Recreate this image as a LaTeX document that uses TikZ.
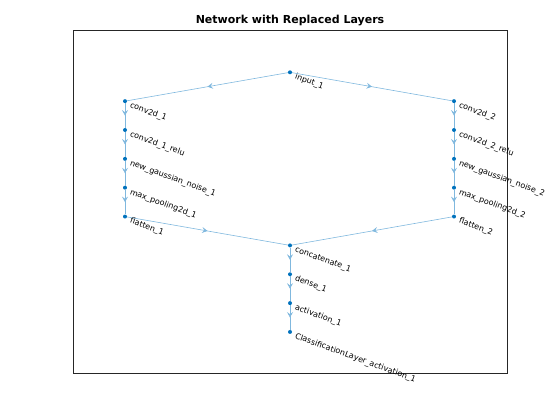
\documentclass[tikz,border=0pt]{standalone}
\usepackage{fontspec}
\setmainfont{DejaVu Sans}
\usetikzlibrary{arrows.meta,decorations.markings}
\definecolor{nodeblue}{rgb}{0,0.447,0.741}
\definecolor{edgeblue}{rgb}{0.5,0.72,0.87}

\begin{document}
\begin{tikzpicture}[x=1pt, y=-1pt,
  layer/.style={circle, fill=nodeblue, minimum size=4pt, inner sep=0pt},
  lbl/.style={anchor=west, rotate=-20, inner sep=0pt, label distance=4.5pt, font=\fontsize{8}{9}\selectfont},
  flow/.style={edgeblue, line width=0.6pt, postaction={decorate},
    decoration={markings, mark=at position 0.5 with {\arrow{Stealth[length=5.5pt,width=6pt,inset=2.2pt]}}}}]
  \useasboundingbox (0,0) rectangle (560,420);

  % axes box and title
  \draw[black!85, line width=0.7pt] (73,30) rectangle (507,373);
  \node[font=\bfseries\fontsize{11}{13}\selectfont] (title) at (290,21) {Network with Replaced Layers};

  % input layer
  \node[layer, label={[lbl]-27:input\_1}] (in1) at (290,72.3) {};

  % left branch
  \node[layer, label={[lbl]-27:conv2d\_1}] (conv1) at (125,101.15) {};
  \node[layer, label={[lbl]-27:conv2d\_1\_relu}] (relu1) at (125,130) {};
  \node[layer, label={[lbl]-27:new\_gaussian\_noise\_1}] (noise1) at (125,158.85) {};
  \node[layer, label={[lbl]-27:max\_pooling2d\_1}] (pool1) at (125,187.7) {};
  \node[layer, label={[lbl]-27:flatten\_1}] (flat1) at (125,216.55) {};

  % right branch
  \node[layer, label={[lbl]-27:conv2d\_2}] (conv2) at (454,101.15) {};
  \node[layer, label={[lbl]-27:conv2d\_2\_relu}] (relu2) at (454,130) {};
  \node[layer, label={[lbl]-27:new\_gaussian\_noise\_2}] (noise2) at (454,158.85) {};
  \node[layer, label={[lbl]-27:max\_pooling2d\_2}] (pool2) at (454,187.7) {};
  \node[layer, label={[lbl]-27:flatten\_2}] (flat2) at (454,216.55) {};

  % merged part
  \node[layer, label={[lbl]-27:concatenate\_1}] (cat1) at (290,245.4) {};
  \node[layer, label={[lbl]-27:dense\_1}] (dense1) at (290,274.25) {};
  \node[layer, label={[lbl]-27:activation\_1}] (act1) at (290,303.1) {};
  \node[layer, label={[lbl]-27:ClassificationLayer\_activation\_1}] (cls1) at (290,331.95) {};

  % edges
  \draw[flow] (in1) -- (conv1);
  \draw[flow] (in1) -- (conv2);
  \draw[flow] (conv1) -- (relu1);
  \draw[flow] (relu1) -- (noise1);
  \draw[flow] (noise1) -- (pool1);
  \draw[flow] (pool1) -- (flat1);
  \draw[flow] (conv2) -- (relu2);
  \draw[flow] (relu2) -- (noise2);
  \draw[flow] (noise2) -- (pool2);
  \draw[flow] (pool2) -- (flat2);
  \draw[flow] (flat1) -- (cat1);
  \draw[flow] (flat2) -- (cat1);
  \draw[flow] (cat1) -- (dense1);
  \draw[flow] (dense1) -- (act1);
  \draw[flow] (act1) -- (cls1);

\end{tikzpicture}
\end{document}
